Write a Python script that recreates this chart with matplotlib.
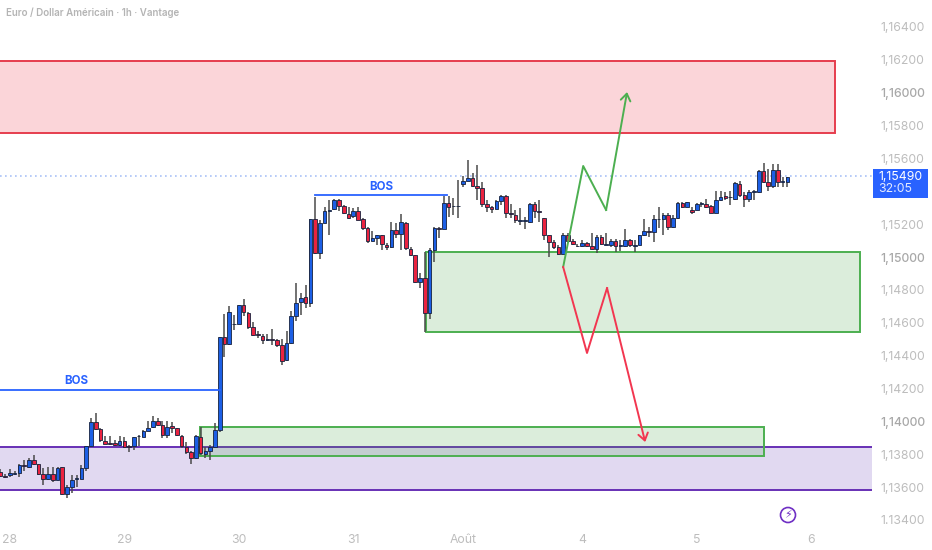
import matplotlib
matplotlib.use('Agg')
import matplotlib.pyplot as plt
import numpy as np
from matplotlib.patches import Rectangle

# cours EUR/USD en 1h, en 1e-5 (113690 = 1,13690)
opens = [113690,113667,113673,113682,113688,113734,113724,113763,113738,113680,
         113651,113680,113643,113720,113558,113602,113649,113651,113716,113852,
         113994,113952,113883,113866,113866,113854,113883,113852,113852,113909,
         113907,113943,113964,114002,113976,113915,113972,113958,113913,113846,
         113811,113775,113907,113803,113822,113846,113947,114512,114473,114591,
         114595,114707,114662,114575,114534,114522,114492,114504,114492,114463,
         114372,114475,114642,114725,114754,114721,115231,115026,115208,115283,
         115291,115346,115310,115263,115251,115283,115229,115174,115099,115117,
         115131,115076,115060,115162,115141,115210,115050,115013,114849,114875,
         114660,115042,115176,115170,115326,115308,115308,115446,115464,115478,
         115432,115422,115320,115306,115294,115340,115369,115267,115255,115219,
         115217,115215,115320,115277,115235,115135,115091,115062,115018,115131,
         115099,115064,115068,115085,115064,115050,115119,115076,115076,115099,
         115068,115068,115103,115068,115074,115133,115158,115150,115229,115229,
         115257,115182,115235,115326,115304,115286,115288,115320,115322,115310,
         115267,115347,115369,115363,115351,115444,115377,115355,115395,115393,
         115523,115454,115434,115529,115456,115458]
highs = [113708,113677,113708,113700,113740,113765,113775,113793,113740,113714,
         113720,113720,113720,113724,113613,113673,113673,113734,113852,114019,
         114049,113958,113911,113911,113887,113911,113907,113856,113907,113917,
         113947,114004,114033,114023,114004,114004,113998,113962,113917,113876,
         113820,113917,113968,113846,113856,113992,114514,114656,114701,114646,
         114707,114747,114666,114605,114548,114534,114534,114559,114504,114504,
         114548,114670,114839,114778,114829,115233,115367,115225,115302,115346,
         115352,115356,115316,115302,115296,115306,115235,115180,115160,115133,
         115137,115086,115214,115204,115259,115214,115058,115015,114900,115032,
         115052,115180,115184,115371,115371,115357,115468,115493,115590,115509,
         115560,115458,115346,115310,115346,115375,115377,115322,115286,115300,
         115245,115326,115336,115346,115239,115137,115103,115072,115144,115144,
         115107,115079,115103,115093,115144,115133,115133,115144,115107,115107,
         115103,115168,115109,115103,115135,115231,115180,115255,115306,115265,
         115265,115255,115332,115336,115336,115306,115326,115336,115351,115316,
         115403,115403,115397,115403,115458,115464,115397,115407,115407,115529,
         115570,115533,115566,115566,115489,115489]
lows = [113663,113653,113663,113673,113663,113700,113714,113732,113673,113613,
        113643,113633,113643,113552,113531,113562,113602,113649,113700,113846,
        113947,113876,113860,113858,113850,113850,113836,113816,113826,113850,
        113903,113941,113962,113974,113897,113897,113927,113913,113836,113801,
        113740,113769,113795,113775,113765,113842,113938,114392,114463,114555,
        114591,114640,114559,114520,114508,114473,114488,114467,114453,114341,
        114368,114473,114611,114646,114691,114693,115021,114985,115204,115133,
        115289,115281,115261,115231,115235,115225,115164,115088,115097,115072,
        115042,115042,115052,115113,115042,115042,115009,114843,114814,114544,
        114622,114971,115113,115168,115245,115255,115235,115428,115464,115428,
        115346,115302,115275,115265,115290,115316,115235,115235,115204,115194,
        115168,115210,115235,115215,115103,115001,115046,115012,115016,115093,
        115072,115058,115062,115058,115046,115022,115076,115072,115062,115032,
        115036,115062,115062,115032,115072,115127,115123,115093,115174,115133,
        115164,115178,115231,115296,115302,115261,115286,115302,115296,115265,
        115265,115342,115347,115316,115347,115363,115306,115336,115347,115391,
        115448,115403,115418,115428,115428,115428]
closes = [113669,113663,113684,113686,113734,113728,113765,113738,113680,113651,
          113680,113643,113718,113558,113598,113643,113653,113714,113850,113998,
          113952,113887,113862,113862,113854,113883,113846,113846,113903,113913,
          113941,113962,114002,113980,113915,113968,113960,113915,113852,113816,
          113779,113911,113805,113820,113842,113947,114514,114473,114666,114595,
          114707,114666,114575,114528,114528,114492,114504,114494,114463,114370,
          114475,114642,114723,114751,114721,115233,115026,115208,115281,115289,
          115346,115310,115265,115237,115283,115225,115176,115095,115115,115131,
          115080,115060,115164,115141,115214,115052,115013,114847,114875,114660,
          115040,115176,115168,115330,115302,115312,115310,115464,115478,115434,
          115422,115320,115306,115294,115338,115369,115265,115259,115227,115223,
          115223,115320,115280,115271,115135,115091,115062,115018,115133,115099,
          115081,115070,115083,115066,115050,115119,115081,115081,115097,115068,
          115072,115103,115072,115072,115131,115156,115150,115229,115233,115255,
          115182,115235,115326,115304,115334,115273,115322,115326,115306,115269,
          115344,115367,115359,115367,115448,115377,115355,115395,115399,115523,
          115454,115434,115529,115458,115460,115485]

last_price = 1.15490

# axes
price_ticks = [1.164, 1.162, 1.160, 1.158, 1.156, 1.154, 1.152, 1.150,
               1.148, 1.146, 1.144, 1.142, 1.140, 1.138, 1.136, 1.134]
price_labels = ['1,16400', '1,16200', '1,16000', '1,15800', '1,15600', '', '1,15200', '1,15000',
                '1,14800', '1,14600', '1,14400', '1,14200', '1,14000', '1,13800', '1,13600', '1.13400']
strong_labels = ['1,16000', '1,15000', '1,14000']
date_ticks = [2, 26, 50, 74, 97, 122, 146, 170]
date_labels = ['28', '29', '30', '31', 'Août', '4', '5', '6']

# zones: bougie debut, bougie fin, prix bas, prix haut
zone_red = (-1, 175, 1.15755, 1.16193)
zone_green_high = (89.2, 180.2, 1.14544, 1.15030)
zone_green_low = (41.9, 160.1, 1.13789, 1.13966)
zone_purple = (-1, 183, 1.13582, 1.13844)

# BOS: bougie debut, bougie fin, prix
bos_low = (-1, 46, 1.14191)
bos_high = (66, 93.6, 1.15377)

# scenarios
up_x = [118, 122.2, 127, 131.4]
up_y = [1.14939, 1.15554, 1.15286, 1.16004]
down_x = [118, 123, 127.2, 135.2]
down_y = [1.14939, 1.14416, 1.14811, 1.13874]

WIDTH, HEIGHT = 932, 550
AX_RIGHT, AX_BOTTOM = 872, 528
BLUE = '#2962ff'
BULL = '#1c5fe5'
BEAR = '#ea2340'
GREY = '#bdbdbd'


def px_rect(x, y, w, h, **kw):
    # rectangle en pixels de l'image, hors de la zone du graphique
    return Rectangle((x / WIDTH, 1 - (y + h) / HEIGHT), w / WIDTH, h / HEIGHT,
                     transform=fig.transFigure, **kw)


def draw_zone(ax, zone, face, edge):
    x0, x1, y0, y1 = zone
    ax.add_patch(Rectangle((x0, y0), x1 - x0, y1 - y0, facecolor=face, edgecolor=edge,
                           linewidth=1.4, zorder=1))


plt.rcParams['font.family'] = ['Inter', 'DejaVu Sans']

fig = plt.figure(figsize=(WIDTH / 100, HEIGHT / 100), dpi=100)
ax = fig.add_axes([0, (HEIGHT - AX_BOTTOM) / HEIGHT, AX_RIGHT / WIDTH, AX_BOTTOM / HEIGHT])
ax.set_xlim(-0.063, (AX_RIGHT - 0.3) / 4.77)
ax.set_ylim(1.13351, 1.16564)
for s in ax.spines.values():
    s.set_visible(False)

draw_zone(ax, zone_red, '#fbd5d9', '#e63d4e')
draw_zone(ax, zone_purple, '#e1d9f1', '#6730b5')
green_face = (0.30, 0.65, 0.30, 0.2)
draw_zone(ax, zone_green_high, green_face, '#4caf50')
draw_zone(ax, zone_green_low, green_face, '#4caf50')

ax.axhline(last_price, color='#a9c1f7', linewidth=1.2, linestyle=(0, (1, 2)), zorder=1)

# bougies
o = np.array(opens) / 1e5
h = np.array(highs) / 1e5
l = np.array(lows) / 1e5
c = np.array(closes) / 1e5
x = np.arange(len(o))
colors = [BULL if cl >= op else BEAR for op, cl in zip(o, c)]
ax.vlines(x, l, h, color='#4a4a4a', linewidth=1.1, zorder=2)
ax.bar(x, np.abs(c - o), bottom=np.minimum(o, c), width=0.76, color=colors,
       edgecolor='#16223d', linewidth=0.6, zorder=3)

# BOS
for x0, x1, y in [bos_low, bos_high]:
    ax.plot([x0, x1], [y, y], color=BLUE, linewidth=1.3, zorder=4)
    ax.text((max(x0, 0) + x1) / 2 + (0 if x0 > 0 else -7), y + 0.00015, 'BOS', color=BLUE,
            fontsize=8.3, fontweight='bold', ha='center', va='bottom', zorder=4)

# fleches
ax.plot(up_x[:-1], up_y[:-1], color='#4caf50', linewidth=1.4, zorder=5)
ax.annotate('', xy=(up_x[-1], up_y[-1]), xytext=(up_x[-2], up_y[-2]),
            arrowprops=dict(arrowstyle='->,head_length=0.5,head_width=0.35', color='#4caf50',
                            lw=1.4, shrinkA=0, shrinkB=0), zorder=5)
ax.plot(down_x[:-1], down_y[:-1], color='#f23650', linewidth=1.4, zorder=5)
ax.annotate('', xy=(down_x[-1], down_y[-1]), xytext=(down_x[-2], down_y[-2]),
            arrowprops=dict(arrowstyle='->,head_length=0.5,head_width=0.35', color='#f23650',
                            lw=1.4, shrinkA=0, shrinkB=0), zorder=5)

# echelles
ax.yaxis.tick_right()
ax.set_yticks(price_ticks)
ax.set_yticklabels(price_labels)
ax.tick_params(axis='y', length=0, pad=6, labelsize=8.8, labelcolor=GREY)
for lab in ax.get_yticklabels():
    if lab.get_text() in strong_labels:
        lab.set_color('#a8a8a8')
        lab.set_fontweight('medium')
ax.set_xticks(date_ticks)
ax.set_xticklabels(date_labels)
ax.tick_params(axis='x', length=0, pad=4, labelsize=8.8, labelcolor=GREY)

# etiquette du dernier prix
fig.add_artist(px_rect(873, 169, 55, 29, facecolor=BLUE, edgecolor='none'))
fig.text(900.5 / WIDTH, 1 - 176.5 / HEIGHT, '1,15490', color='white', fontsize=8.8, ha='center', va='center')
fig.text(895 / WIDTH, 1 - 189.5 / HEIGHT, '32:05', color='#e3eaff', fontsize=8.8, ha='center', va='center')

fig.text(6.5 / WIDTH, 1 - 12.5 / HEIGHT, 'Euro / Dollar Américain · 1h · Vantage', color='#b4b4b4',
         fontsize=7.0, fontweight='semibold', ha='left', va='center')

# icone eclair
fig.text(788 / WIDTH, 1 - 515 / HEIGHT, '⚡', color='#6f2fc4', fontsize=8, ha='center', va='center',
         family=['DejaVu Sans'])
icon = plt.Circle((788, HEIGHT - 515), 7.5, transform=None, fill=False, edgecolor='#6f2fc4', linewidth=1.2)
fig.add_artist(icon)

fig.savefig('out.png', dpi=100)
